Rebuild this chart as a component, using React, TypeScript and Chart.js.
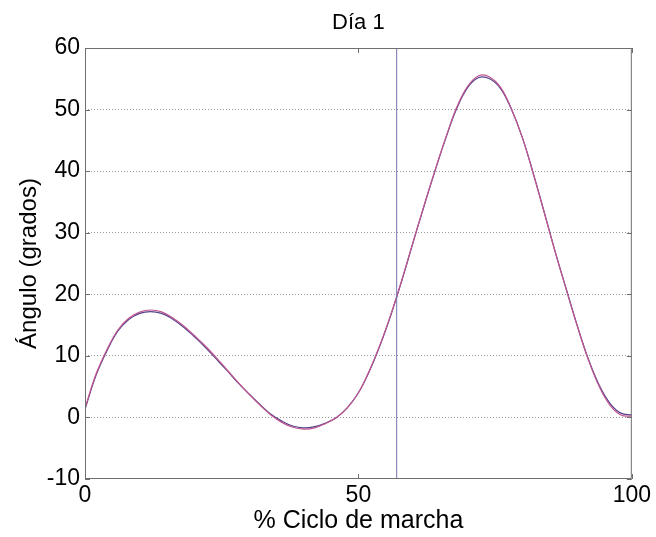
import React, { useEffect, useRef } from "react";
import { Chart, registerables } from "chart.js";

Chart.register(...registerables);

const TITLE = "Día 1";
const X_TITLE = "% Ciclo de marcha";
const Y_TITLE = "Ángulo (grados)";

const X_PCT = [
  0, 2, 4, 6, 8, 10, 12, 14, 16, 18, 20, 22, 24, 26, 28, 30, 32, 34, 36, 38, 40,
  42, 44, 46, 48, 50, 52, 54, 56, 58, 60, 62, 64, 66, 68, 70, 72, 74, 76, 78, 80,
  82, 84, 86, 88, 90, 92, 94, 96, 98, 100,
];

const BLUE_SERIES = [
  1.3, 6.8, 10.8, 14.0, 15.9, 16.9, 17.2, 16.9, 16.0, 14.7, 13.1, 11.4, 9.5, 7.6,
  5.6, 3.8, 2.1, 0.5, -0.6, -1.4, -1.7, -1.5, -0.9, 0.0, 1.6, 4.0, 7.5, 11.8, 16.8,
  22.4, 28.4, 34.3, 40.0, 45.4, 50.2, 53.6, 55.2, 55.0, 53.4, 50.0, 45.4, 39.6,
  33.3, 26.9, 20.9, 15.0, 9.6, 5.3, 2.3, 0.7, 0.4,
];

const RED_SERIES = [
  1.5, 7.0, 11.0, 14.2, 16.1, 17.1, 17.45, 17.15, 16.2, 14.9, 13.3, 11.6, 9.7, 7.7,
  5.7, 3.8, 2.0, 0.4, -0.8, -1.6, -1.9, -1.7, -1.0, 0.0, 1.6, 4.0, 7.6, 11.9, 16.9,
  22.5, 28.5, 34.4, 40.1, 45.5, 50.4, 53.8, 55.5, 55.3, 53.6, 50.1, 45.4, 39.5,
  33.2, 26.8, 20.8, 14.9, 9.5, 5.1, 2.0, 0.4, 0.2,
];

const VLINE_X = 57;

const Y_MIN = -10;
const Y_MAX = 60;
const Y_STEP = 10;
const X_MIN = 0;
const X_MAX = 100;
const X_STEP = 50;

const FONT = "'Liberation Sans', Arial, Helvetica, sans-serif";

const framePlugin = {
  id: "matlabFrame",
  afterDatasetsDraw(chart: any) {
    const { ctx, chartArea, scales } = chart;
    const { left, right, top, bottom } = chartArea;
    ctx.save();
    ctx.strokeStyle = "#6f6f6f";
    ctx.lineWidth = 1;
    ctx.beginPath();
    ctx.rect(left + 0.5, top + 0.5, right - left - 1, bottom - top - 1);
    ctx.stroke();
    const tl = 5;
    ctx.beginPath();
    scales.y.ticks.forEach((t: any) => {
      const py = Math.round(scales.y.getPixelForValue(t.value)) + 0.5;
      ctx.moveTo(left, py);
      ctx.lineTo(left + tl, py);
      ctx.moveTo(right, py);
      ctx.lineTo(right - tl, py);
    });
    scales.x.ticks.forEach((t: any) => {
      const px = Math.round(scales.x.getPixelForValue(t.value)) + 0.5;
      ctx.moveTo(px, bottom);
      ctx.lineTo(px, bottom - tl);
      ctx.moveTo(px, top);
      ctx.lineTo(px, top + tl);
    });
    ctx.stroke();
    ctx.restore();
  },
};

export default function App() {
  const canvasRef = useRef<HTMLCanvasElement | null>(null);

  useEffect(() => {
    if (!canvasRef.current) return;
    const chart = new Chart(canvasRef.current, {
      type: "line",
      data: {
        datasets: [
          {
            label: "vline",
            data: [
              { x: VLINE_X, y: Y_MIN },
              { x: VLINE_X, y: Y_MAX },
            ],
            borderColor: "#7474ae",
            borderWidth: 1,
            pointRadius: 0,
            tension: 0,
          },
          {
            label: "rojo",
            data: X_PCT.map((x, i) => ({ x, y: RED_SERIES[i] })),
            borderColor: "#c0568f",
            borderWidth: 1.2,
            pointRadius: 0,
            tension: 0.4,
          },
          {
            label: "azul",
            data: X_PCT.map((x, i) => ({ x, y: BLUE_SERIES[i] })),
            borderColor: "#54418c",
            borderWidth: 1.2,
            pointRadius: 0,
            tension: 0.4,
          },
        ],
      },
      options: {
        animation: false,
        responsive: true,
        maintainAspectRatio: false,
        layout: { padding: { left: 0, right: 24, top: 0, bottom: 0 } },
        plugins: {
          legend: { display: false },
          tooltip: { enabled: false },
          title: { display: false },
        },
        scales: {
          x: {
            type: "linear",
            min: X_MIN,
            max: X_MAX,
            afterBuildTicks(scale: any) {
              const t = [];
              for (let v = X_MIN; v <= X_MAX; v += X_STEP) t.push({ value: v });
              scale.ticks = t;
            },
            afterFit(scale: any) {
              scale.height = 58;
            },
            ticks: {
              color: "#000",
              font: { family: FONT, size: 23, lineHeight: 1 },
              padding: 5,
              maxRotation: 0,
              autoSkip: false,
            },
            grid: { display: false, drawTicks: false },
            border: { display: false },
            title: {
              display: true,
              text: X_TITLE,
              color: "#000",
              font: { family: FONT, size: 25, lineHeight: 1 },
              padding: { top: 0, bottom: 3 },
            },
          },
          xTop: {
            type: "linear",
            position: "top",
            min: X_MIN,
            max: X_MAX,
            afterFit(scale: any) {
              scale.height = 48;
            },
            ticks: { display: false },
            grid: { display: false, drawTicks: false },
            border: { display: false },
            title: {
              display: true,
              text: TITLE,
              color: "#000",
              font: { family: FONT, size: 22, lineHeight: 1 },
              padding: { top: 12, bottom: 0 },
            },
          },
          y: {
            type: "linear",
            min: Y_MIN,
            max: Y_MAX,
            afterBuildTicks(scale: any) {
              const t = [];
              for (let v = Y_MIN; v <= Y_MAX; v += Y_STEP) t.push({ value: v });
              scale.ticks = t;
            },
            afterFit(scale: any) {
              scale.width = 85;
            },
            ticks: {
              color: "#000",
              font: { family: FONT, size: 23, lineHeight: 1 },
              padding: 5,
              autoSkip: false,
            },
            grid: {
              display: true,
              drawTicks: false,
              color: (ctx: any) =>
                ctx.tick && (ctx.tick.value === Y_MIN || ctx.tick.value === Y_MAX)
                  ? "rgba(0,0,0,0)"
                  : "#9a9a9a",
              lineWidth: 1,
            },
            border: { display: false, dash: [1, 2] },
            title: {
              display: true,
              text: Y_TITLE,
              color: "#000",
              font: { family: FONT, size: 24, lineHeight: 1 },
              padding: { top: 17, bottom: 0 },
            },
          },
        },
      },
      plugins: [framePlugin],
    } as any);
    return () => chart.destroy();
  }, []);

  return (
    <div style={{ position: "fixed", left: 0, top: 0, width: 656, height: 537, background: "#fff" }}>
      <canvas ref={canvasRef} />
    </div>
  );
}
